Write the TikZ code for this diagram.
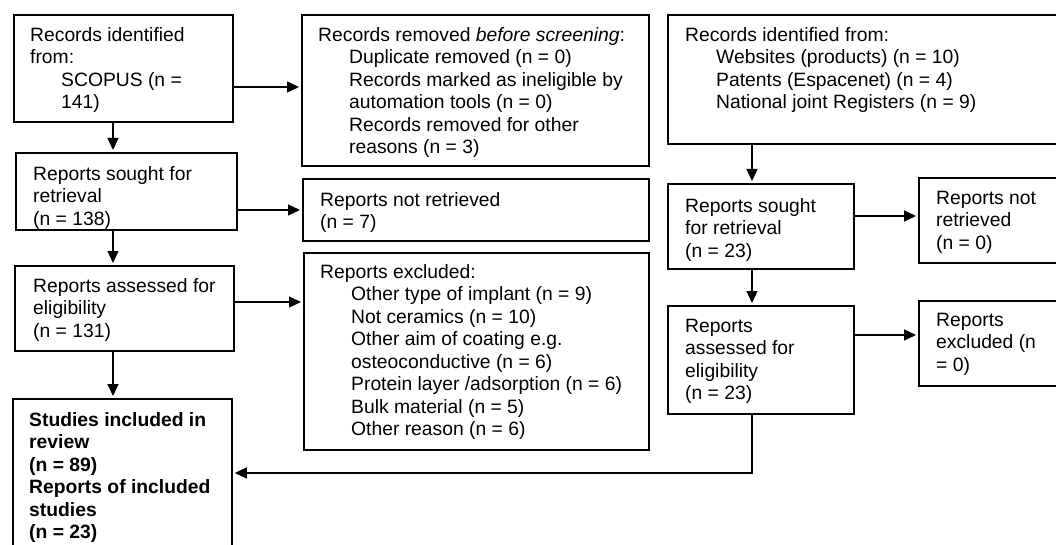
\documentclass[tikz,border=0pt]{standalone}
\usepackage{fontspec}
\setmainfont{Liberation Sans}
\usetikzlibrary{arrows.meta,calc}
\newcommand\myind{\hspace*{31pt}}
\begin{document}
\begin{tikzpicture}[x=1pt,y=-1pt,
  box/.style={draw, line width=1.8pt, anchor=north west, inner sep=0pt},
  txt/.style={anchor=north west, inner sep=0pt, align=left, font=\fontsize{19.3}{22.5}\selectfont},
  arr/.style={line width=1.3pt, shorten >=2pt, -{Triangle[length=12pt,width=11pt]}}]
\useasboundingbox (0,0) rectangle (1056,545);
\clip (0,0) rectangle (1056,545);
% helper levels
\coordinate (xl) at (113,0);
\coordinate (xr) at (752,0);
\coordinate (yAB) at (0,87);
\coordinate (yDE) at (0,210);
\coordinate (yFG) at (0,302);
\coordinate (yIJ) at (0,216);
\coordinate (yKL) at (0,335);
\coordinate (yKH) at (0,473);
% boxes
\node[box, minimum width=219pt, minimum height=107pt] (A) at (13,14) {};
\node[box, minimum width=347pt, minimum height=151pt] (B) at (301,14) {};
\node[box, minimum width=420pt, minimum height=129pt] (C) at (667,14) {};
\node[box, minimum width=221pt, minimum height=77pt] (D) at (15,152) {};
\node[box, minimum width=346pt, minimum height=62pt] (E) at (302,178) {};
\node[box, minimum width=219pt, minimum height=85pt] (F) at (14,265) {};
\node[box, minimum width=345pt, minimum height=197pt] (G) at (303,252) {};
\node[box, minimum width=219pt, minimum height=170pt] (H) at (12,398) {};
\node[box, minimum width=186pt, minimum height=85pt] (I) at (667,183) {};
\node[box, minimum width=170pt, minimum height=85pt] (J) at (918,177) {};
\node[box, minimum width=186pt, minimum height=108pt] (K) at (667,305) {};
\node[box, minimum width=170pt, minimum height=85pt] (L) at (918,300) {};
% texts
\node[txt] (At) at ($(A.north west)+(17,13)$) {Records identified\\from:\\\myind SCOPUS (n =\\\myind 141)};
\node[txt] (Bt) at ($(B.north west)+(17,13)$) {Records removed \textit{before screening}:\\\myind Duplicate removed (n = 0)\\\myind Records marked as ineligible by\\\myind automation tools (n = 0)\\\myind Records removed for other\\\myind reasons (n = 3)};
\node[txt] (Ct) at ($(C.north west)+(18,13)$) {Records identified from:\\\myind Websites (products) (n = 10)\\\myind Patents (Espacenet) (n = 4)\\\myind National joint Registers (n = 9)};
\node[txt] (Dt) at ($(D.north west)+(18,14)$) {Reports sought for\\retrieval\\(n = 138)};
\node[txt] (Et) at ($(E.north west)+(18,14)$) {Reports not retrieved\\(n = 7)};
\node[txt] (Ft) at ($(F.north west)+(19,13)$) {Reports assessed for\\eligibility\\(n = 131)};
\node[txt] (Gt) at ($(G.north west)+(17,12)$) {Reports excluded:\\\myind Other type of implant (n = 9)\\\myind Not ceramics (n = 10)\\\myind Other aim of coating e.g.\\\myind osteoconductive (n = 6)\\\myind Protein layer /adsorption (n = 6)\\\myind Bulk material (n = 5)\\\myind Other reason (n = 6)};
\node[txt, font=\fontsize{19.3}{22.5}\selectfont\bfseries] (Ht) at ($(H.north west)+(17,14)$) {Studies included in\\review\\(n = 89)\\Reports of included\\studies\\(n = 23)};
\node[txt] (It) at ($(I.north west)+(18,15)$) {Reports sought\\for retrieval\\(n = 23)};
\node[txt] (Jt) at ($(J.north west)+(18,14)$) {Reports not\\retrieved\\(n = 0)};
\node[txt] (Kt) at ($(K.north west)+(18,14)$) {Reports\\assessed for\\eligibility\\(n = 23)};
\node[txt] (Lt) at ($(L.north west)+(18,13)$) {Reports\\excluded (n\\= 0)};
% arrows
\draw[arr] (A.east |- yAB) -- (B.west |- yAB);
\draw[arr] (A.south -| xl) -- (D.north -| xl);
\draw[arr] (D.east |- yDE) -- (E.west |- yDE);
\draw[arr] (D.south -| xl) -- (F.north -| xl);
\draw[arr] (F.east |- yFG) -- (G.west |- yFG);
\draw[arr] (F.south -| xl) -- (H.north -| xl);
\draw[arr] (C.south -| xr) -- (I.north -| xr);
\draw[arr] (I.east |- yIJ) -- (J.west |- yIJ);
\draw[arr] (I.south -| xr) -- (K.north -| xr);
\draw[arr] (K.east |- yKL) -- (L.west |- yKL);
\draw[arr] (K.south -| xr) |- (H.east |- yKH);
\end{tikzpicture}
\end{document}
